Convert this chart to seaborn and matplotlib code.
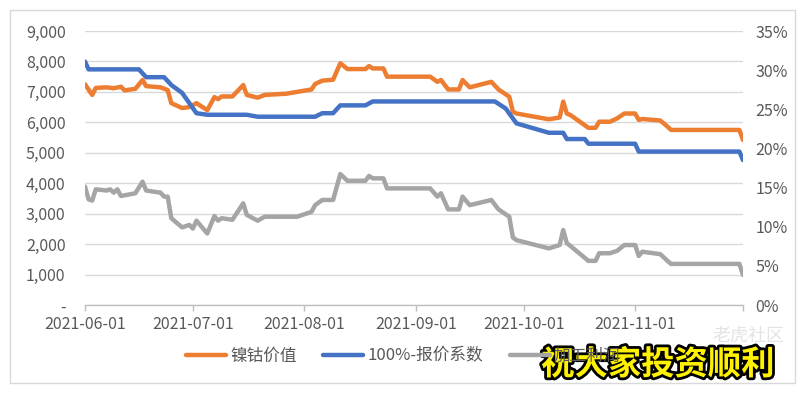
import numpy as np
import pandas as pd
import matplotlib
matplotlib.use("Agg")
import matplotlib.pyplot as plt
import matplotlib.patheffects as pe
from matplotlib.patches import Rectangle
from matplotlib.ticker import FuncFormatter, MultipleLocator
import seaborn as sns

sns.set_theme(style="white")
plt.rcParams['font.family'] = ['Noto Sans CJK SC', 'DejaVu Sans']

# ---------------- data ----------------
orange_label = "镍钴价值"
blue_label = "100%-报价系数"
gray_label = "加工利润"

orange_dates = ["2021-06-01", "2021-06-03", "2021-06-04", "2021-06-07", "2021-06-09", "2021-06-11",
                "2021-06-12", "2021-06-15", "2021-06-17", "2021-06-18", "2021-06-22", "2021-06-24",
                "2021-06-25", "2021-06-28", "2021-06-30", "2021-07-02", "2021-07-05", "2021-07-07",
                "2021-07-08", "2021-07-09", "2021-07-12", "2021-07-15", "2021-07-16", "2021-07-19",
                "2021-07-21", "2021-07-27", "2021-07-30", "2021-08-03", "2021-08-04", "2021-08-06",
                "2021-08-09", "2021-08-11", "2021-08-13", "2021-08-18", "2021-08-19", "2021-08-20",
                "2021-08-23", "2021-08-24", "2021-09-05", "2021-09-07", "2021-09-08", "2021-09-10",
                "2021-09-13", "2021-09-14", "2021-09-16", "2021-09-22", "2021-09-24", "2021-09-27",
                "2021-09-28", "2021-09-29", "2021-10-08", "2021-10-11", "2021-10-12", "2021-10-13",
                "2021-10-14", "2021-10-19", "2021-10-21", "2021-10-22", "2021-10-25", "2021-10-27",
                "2021-10-29", "2021-11-01", "2021-11-02", "2021-11-03", "2021-11-08", "2021-11-10",
                "2021-11-11", "2021-11-30", "2021-12-01"]
orange_values = [7250, 6900, 7130, 7150, 7120, 7170,
                 7050, 7100, 7390, 7190, 7150, 7060,
                 6630, 6470, 6500, 6630, 6400, 6830,
                 6760, 6850, 6850, 7225, 6900, 6810,
                 6900, 6940, 7000, 7080, 7260, 7370,
                 7400, 7940, 7750, 7750, 7850, 7770,
                 7770, 7500, 7500, 7330, 7390, 7080,
                 7080, 7390, 7150, 7330, 7080, 6840,
                 6350, 6290, 6100, 6160, 6680, 6290,
                 6240, 5820, 5820, 6020, 6020, 6130,
                 6290, 6290, 6080, 6110, 6060, 5860,
                 5750, 5750, 5420]

blue_dates = ["2021-06-01", "2021-06-02", "2021-06-16", "2021-06-18", "2021-06-23", "2021-06-25",
              "2021-06-28", "2021-07-02", "2021-07-05", "2021-07-16", "2021-07-19", "2021-08-04",
              "2021-08-06", "2021-08-09", "2021-08-11", "2021-08-18", "2021-08-20", "2021-09-23",
              "2021-09-26", "2021-09-29", "2021-10-08", "2021-10-12", "2021-10-13", "2021-10-18",
              "2021-10-19", "2021-11-01", "2021-11-02", "2021-11-30", "2021-12-01"]
blue_values = [31.1, 30.1, 30.1, 29.1, 29.1, 28.1,
               27.1, 24.5, 24.3, 24.3, 24.05, 24.05,
               24.5, 24.5, 25.5, 25.5, 26.0, 26.0,
               25.1, 23.2, 22.0, 22.0, 21.2, 21.2,
               20.6, 20.6, 19.6, 19.6, 18.5]

gray_dates = ["2021-06-01", "2021-06-02", "2021-06-03", "2021-06-04", "2021-06-07", "2021-06-08",
              "2021-06-09", "2021-06-10", "2021-06-11", "2021-06-15", "2021-06-17", "2021-06-18",
              "2021-06-22", "2021-06-23", "2021-06-24", "2021-06-25", "2021-06-28", "2021-06-30",
              "2021-07-01", "2021-07-02", "2021-07-05", "2021-07-07", "2021-07-08", "2021-07-09",
              "2021-07-12", "2021-07-15", "2021-07-16", "2021-07-19", "2021-07-21", "2021-07-30",
              "2021-08-03", "2021-08-04", "2021-08-06", "2021-08-09", "2021-08-11", "2021-08-13",
              "2021-08-18", "2021-08-19", "2021-08-20", "2021-08-23", "2021-08-24", "2021-09-05",
              "2021-09-07", "2021-09-08", "2021-09-10", "2021-09-13", "2021-09-14", "2021-09-16",
              "2021-09-22", "2021-09-24", "2021-09-27", "2021-09-28", "2021-09-29", "2021-10-08",
              "2021-10-11", "2021-10-12", "2021-10-13", "2021-10-14", "2021-10-19", "2021-10-21",
              "2021-10-22", "2021-10-25", "2021-10-27", "2021-10-29", "2021-11-01", "2021-11-02",
              "2021-11-03", "2021-11-08", "2021-11-10", "2021-11-11", "2021-11-30", "2021-12-01"]
gray_values = [3890, 3470, 3430, 3800, 3760, 3800,
               3690, 3800, 3580, 3670, 4050, 3760,
               3690, 3560, 3560, 2850, 2550, 2630,
               2510, 2770, 2350, 2920, 2770, 2850,
               2800, 3340, 2960, 2770, 2900, 2900,
               3060, 3280, 3450, 3450, 4300, 4080,
               4080, 4240, 4160, 4160, 3830, 3830,
               3560, 3670, 3140, 3140, 3560, 3280,
               3450, 3140, 2900, 2220, 2130, 1860,
               1970, 2460, 2030, 1940, 1450, 1450,
               1700, 1700, 1780, 1970, 1970, 1610,
               1750, 1670, 1450, 1350, 1350, 985]

month_ticks = ["2021-06-01", "2021-07-01", "2021-08-01", "2021-09-01", "2021-10-01", "2021-11-01"]
x_start, x_end = "2021-06-01", "2021-12-01"

# ---------------- figure ----------------
W, H = 806, 393
fig = plt.figure(figsize=(W / 100, H / 100), dpi=100)
fig.patch.set_facecolor("white")

def px(x0, y0, x1, y1):
    return [x0 / W, 1 - y1 / H, (x1 - x0) / W, (y1 - y0) / H]

ax = fig.add_axes(px(85, 31, 743, 305))
ax2 = ax.twinx()

ORANGE, BLUE, GRAY = "#ED7D31", "#4472C4", "#A5A5A5"
LW = 3.2

sns.lineplot(x=pd.to_datetime(orange_dates), y=orange_values, ax=ax, color=ORANGE,
             linewidth=LW, label=orange_label, legend=False)
sns.lineplot(x=pd.to_datetime(gray_dates), y=gray_values, ax=ax, color=GRAY,
             linewidth=LW, label=gray_label, legend=False)
sns.lineplot(x=pd.to_datetime(blue_dates), y=blue_values, ax=ax2, color=BLUE,
             linewidth=LW, label=blue_label, legend=False)

for a in (ax, ax2):
    a.set_xlabel("")
    a.set_ylabel("")
    for s in a.spines.values():
        s.set_visible(False)

ax.set_ylim(0, 9000)
ax.yaxis.set_major_locator(MultipleLocator(1000))
ax.yaxis.set_major_formatter(FuncFormatter(lambda v, p: "-" if v == 0 else f"{int(v):,}"))
ax2.set_ylim(0, 35)
ax2.yaxis.set_major_locator(MultipleLocator(5))
ax2.yaxis.set_major_formatter(FuncFormatter(lambda v, p: f"{int(v)}%"))

ax.grid(axis="y", color="#D9D9D9", linewidth=1)
ax.set_axisbelow(True)
ax.spines["bottom"].set_visible(True)
ax.spines["bottom"].set_color("#BFBFBF")
ax.spines["bottom"].set_linewidth(1)

ticks = list(pd.to_datetime(month_ticks)) + [pd.Timestamp(x_end)]
ax.set_xticks(ticks)
ax.set_xticklabels([pd.Timestamp(t).strftime("%Y-%m-%d") for t in month_ticks] + [""])
ax.set_xlim(pd.Timestamp(x_start), pd.Timestamp(x_end))

TXT = "#595959"
ax.tick_params(axis="x", bottom=True, length=4, width=1, color="#BFBFBF", pad=4,
               labelsize=11.5, labelcolor=TXT)
ax.tick_params(axis="y", length=0, pad=14, labelsize=11.5, labelcolor=TXT)
ax2.tick_params(axis="y", length=0, pad=9, labelsize=11.5, labelcolor=TXT)
ax2.tick_params(axis="x", bottom=False, top=False, labelbottom=False, labeltop=False)

# chart frame
fig.patches.append(Rectangle((10 / W, 1 - 383 / H), 785 / W, 373 / H, transform=fig.transFigure,
                             fill=False, edgecolor="#D9D9D9", linewidth=1))

# legend
h1, l1 = ax.get_legend_handles_labels()
h2, l2 = ax2.get_legend_handles_labels()
hd = {**dict(zip(l1, h1)), **dict(zip(l2, h2))}
order = [orange_label, blue_label, gray_label]
leg = fig.legend([hd[k] for k in order], order, loc="center", bbox_to_anchor=(0.5, 1 - 356 / H),
                 ncol=3, frameon=False, fontsize=12, handlelength=2.4, handletextpad=0.25,
                 columnspacing=1.6)
for t in leg.get_texts():
    t.set_color(TXT)

# overlay watermark texts
fig.text(748 / W, 1 - 336 / H, "老虎社区", fontsize=13, color="#E3E3E3", ha="center", va="center")
fig.text(658 / W, 1 - 365 / H, "祝大家投资顺利", fontsize=24, fontweight="bold", color="#FFF200",
         ha="center", va="center",
         path_effects=[pe.Stroke(linewidth=4, foreground="black"), pe.Normal()])

fig.savefig("out.png", dpi=100, facecolor="white")
